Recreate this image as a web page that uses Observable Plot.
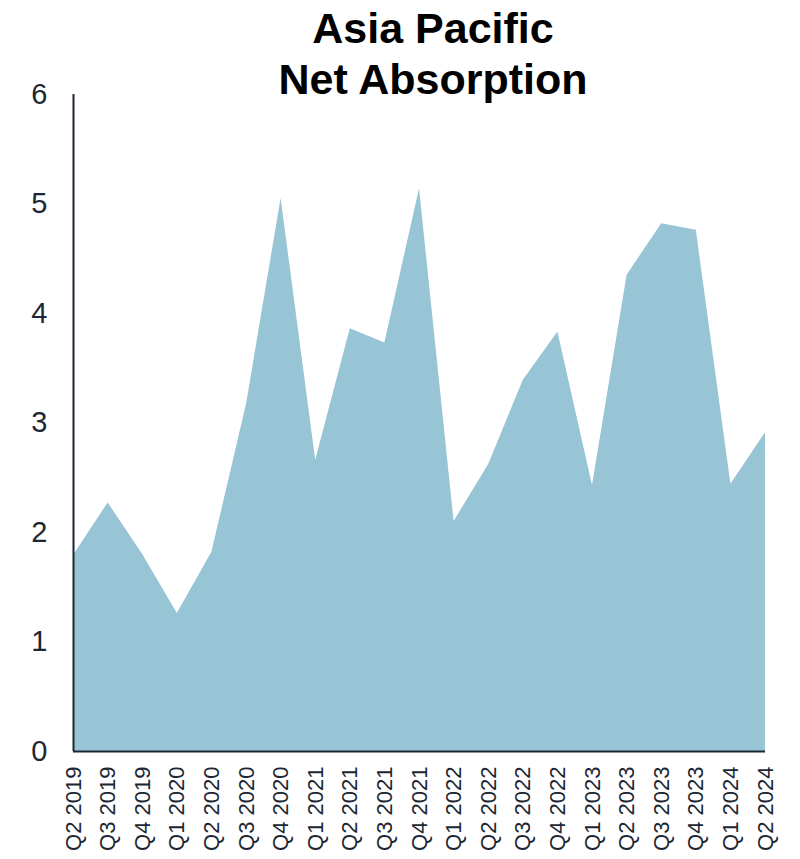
<!DOCTYPE html>
<html>
<head>
<meta charset="utf-8">
<script src="https://cdn.jsdelivr.net/npm/d3@7"></script>
<script src="https://cdn.jsdelivr.net/npm/@observablehq/plot@0.6"></script>
<style>
  html, body { margin: 0; padding: 0; background: #fff; }
  #wrap { position: relative; width: 800px; height: 859px; font-family: "Liberation Sans", Arial, sans-serif; }
  #title { position: absolute; left: 433px; top: 0px; transform: translateX(-50%); text-align: center;
           font-weight: bold; font-size: 43px; line-height: 51px; color: #000; white-space: nowrap; padding-top: 3px; }
  #chart { position: absolute; left: 0; top: 0; }
</style>
</head>
<body>
<div id="wrap">
  <div id="chart"></div>
  <div id="title">Asia Pacific<br>Net Absorption</div>
</div>
<script>
const quarters = ["Q2 2019","Q3 2019","Q4 2019","Q1 2020","Q2 2020","Q3 2020","Q4 2020","Q1 2021","Q2 2021","Q3 2021","Q4 2021","Q1 2022","Q2 2022","Q3 2022","Q4 2022","Q1 2023","Q2 2023","Q3 2023","Q4 2023","Q1 2024","Q2 2024"];
const absorption = [1.79, 2.27, 1.80, 1.26, 1.82, 3.17, 5.05, 2.66, 3.86, 3.73, 5.14, 2.10, 2.62, 3.39, 3.83, 2.43, 4.35, 4.82, 4.76, 2.44, 2.91];
const yTicks = [0, 1, 2, 3, 4, 5, 6];

const data = quarters.map((q, i) => ({i, q, v: absorption[i]}));
const ink = "#1c2733";

const chart = Plot.plot({
  width: 800,
  height: 859,
  marginLeft: 73,
  marginRight: 35,
  marginTop: 94,
  marginBottom: 108,
  style: {fontFamily: '"Liberation Sans", Arial, sans-serif', color: ink, background: "transparent"},
  x: {domain: [0, quarters.length - 1], label: null},
  y: {domain: [0, 6], label: null},
  marks: [
    Plot.areaY(data, {x: "i", y: "v", fill: "#97c5d5"}),
    Plot.axisY({ticks: yTicks, tickSize: 0, tickPadding: 26, fontSize: 29, label: null, tickFormat: d => d}),
    Plot.axisX({ticks: d3.range(quarters.length), tickFormat: i => quarters[i], tickRotate: -90, tickSize: 0, tickPadding: 15, fontSize: 22, label: null}),
    Plot.ruleX([0], {y1: 0, y2: 6, stroke: ink, strokeWidth: 2}),
    Plot.ruleY([0], {stroke: ink, strokeWidth: 2})
  ]
});
document.getElementById("chart").appendChild(chart);
</script>
</body>
</html>
